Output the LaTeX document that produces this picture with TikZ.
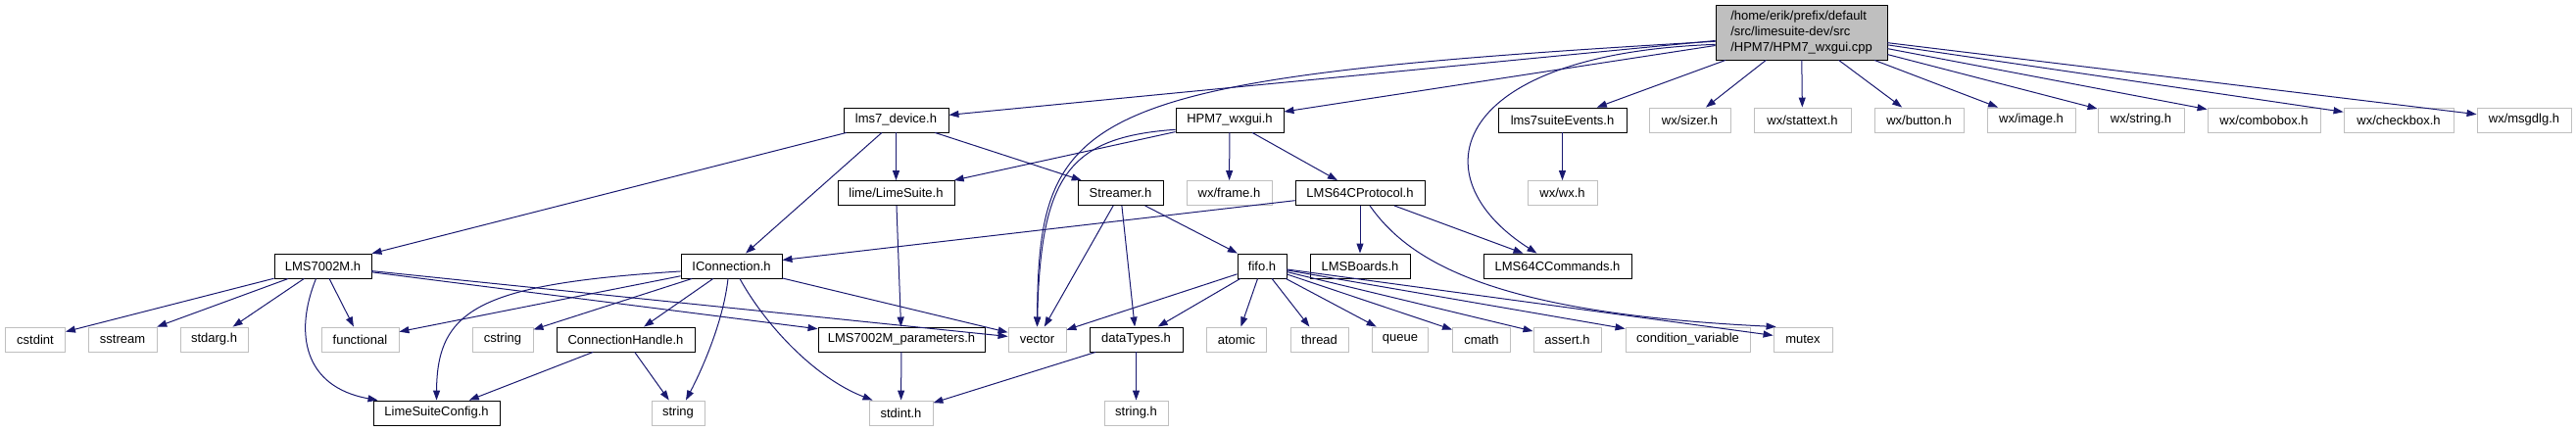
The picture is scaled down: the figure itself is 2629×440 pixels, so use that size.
\documentclass[tikz,border=0pt]{standalone}
\usepackage{fontspec}
\setmainfont{Liberation Sans}
\usetikzlibrary{arrows.meta}
\definecolor{edgec}{HTML}{191970}
\definecolor{extgray}{HTML}{BFBFBF}
\begin{document}
\begin{tikzpicture}[x=1pt,y=-1pt,
  box/.style={line width=0.9pt, fill=white, minimum height=25pt, inner sep=1pt,
              font=\fontsize{13}{16}\selectfont},
  doc/.style={box, draw=black},
  ext/.style={box, draw=extgray},
  edge/.style={draw=edgec, line width=1pt, -{Triangle[length=10pt,width=7pt]}}]
\useasboundingbox (0,0) rectangle (2629,440);
% row 0
\node[doc, fill=extgray, align=left, minimum width=175, minimum height=56] (root) at (1838.5,33)
  {/home/erik/prefix/default\\/src/limesuite-dev/src\\/HPM7/HPM7\_wxgui.cpp};
% row 1
\node[doc, minimum width=107] (lms7) at (914.5,122.5) {lms7\_device.h};
\node[doc, minimum width=110] (hpm7) at (1255,122.5) {HPM7\_wxgui.h};
\node[doc, minimum width=131] (events) at (1594.5,122.5) {lms7suiteEvents.h};
\node[ext, minimum width=83] (sizer) at (1724.5,122.5) {wx/sizer.h};
\node[ext, minimum width=99] (stattext) at (1839.5,122.5) {wx/stattext.h};
\node[ext, minimum width=91] (button) at (1958.5,122.5) {wx/button.h};
\node[ext, minimum width=90] (image) at (2073,122.5) {wx/image.h};
\node[ext, minimum width=88] (wxstring) at (2185,122.5) {wx/string.h};
\node[ext, minimum width=115] (combobox) at (2310.5,122.5) {wx/combobox.h};
\node[ext, minimum width=112] (checkbox) at (2448,122.5) {wx/checkbox.h};
\node[ext, minimum width=96] (msgdlg) at (2576,122.5) {wx/msgdlg.h};
% row 2
\node[doc, minimum width=119] (limesuite) at (914.5,197) {lime/LimeSuite.h};
\node[doc, minimum width=87] (streamer) at (1143.5,197) {Streamer.h};
\node[ext, minimum width=87] (frame) at (1254.5,197) {wx/frame.h};
\node[doc, minimum width=132] (proto) at (1388,197) {LMS64CProtocol.h};
\node[ext, minimum width=71] (wxwx) at (1594.5,197) {wx/wx.h};
% row 3
\node[doc, minimum width=99] (lms7002) at (329.5,271.5) {LMS7002M.h};
\node[doc, minimum width=103] (icon) at (746.5,271.5) {IConnection.h};
\node[doc, minimum width=50] (fifo) at (1288,271.5) {fifo.h};
\node[doc, minimum width=102] (boards) at (1388,271.5) {LMSBoards.h};
\node[doc, minimum width=151] (cmds) at (1589.5,271.5) {LMS64CCommands.h};
% row 4
\node[ext, minimum width=61] (cstdint) at (36,346.5) {cstdint};
\node[ext, minimum width=70] (sstream) at (125,346.5) {sstream};
\node[ext, minimum width=69] (stdarg) at (218.5,346.5) {stdarg.h};
\node[ext, minimum width=79] (functional) at (367.5,346.5) {functional};
\node[ext, minimum width=62] (cstring) at (513,346.5) {cstring};
\node[doc, minimum width=141] (chandle) at (638.5,346.5) {ConnectionHandle.h};
\node[doc, minimum width=170] (params) at (920,346.5) {LMS7002M\_parameters.h};
\node[ext, minimum width=59] (vector) at (1058.5,346.5) {vector};
\node[doc, minimum width=95] (datatypes) at (1159.5,346.5) {dataTypes.h};
\node[ext, minimum width=61] (atomic) at (1262,346.5) {atomic};
\node[ext, minimum width=59] (thread) at (1346.5,346.5) {thread};
\node[ext, minimum width=57] (queue) at (1429,346.5) {queue};
\node[ext, minimum width=59] (cmath) at (1512,346.5) {cmath};
\node[ext, minimum width=69] (assert) at (1599.5,346.5) {assert.h};
\node[ext, minimum width=127] (condvar) at (1722.5,346.5) {condition\_variable};
\node[ext, minimum width=60] (mutex) at (1840,346.5) {mutex};
% row 5
\node[doc, minimum width=129] (lsc) at (445.5,421.5) {LimeSuiteConfig.h};
\node[ext, minimum width=54] (string) at (692,421.5) {string};
\node[ext, minimum width=65] (stdint) at (919.5,421.5) {stdint.h};
\node[ext, minimum width=65] (stringh) at (1159.5,421.5) {string.h};
% edges from root
\draw[edge] (root) -- (lms7);
\draw[edge] (root) -- (hpm7);
\draw[edge] (root.186) .. controls (1100,80) and (1060,110) .. (vector.north);
\draw[edge] (root.188) .. controls (1480,55) and (1445,180) .. ([xshift=-21pt]cmds.north);
\draw[edge] (root) -- (events);
\draw[edge] (root) -- (sizer);
\draw[edge] (root) -- (stattext);
\draw[edge] (root) -- (button);
\draw[edge] (root) -- (image);
\draw[edge] (root) -- (wxstring);
\draw[edge] (root) -- (combobox);
\draw[edge] (root) -- (checkbox);
\draw[edge] (root) -- (msgdlg);
% lms7_device
\draw[edge] (lms7) -- (lms7002);
\draw[edge] (lms7) -- (icon);
\draw[edge] (lms7) -- (limesuite);
\draw[edge] (lms7) -- (streamer);
% HPM7_wxgui
\draw[edge] (hpm7) -- (limesuite);
\draw[edge] (hpm7.190) .. controls (1090,140) and (1062,180) .. (vector.north);
\draw[edge] (hpm7) -- (frame);
\draw[edge] (hpm7) -- (proto);
% events
\draw[edge] (events) -- (wxwx);
% LimeSuite
\draw[edge] (limesuite) -- (params);
% Streamer
\draw[edge] (streamer) -- (vector);
\draw[edge] (streamer) -- (datatypes);
\draw[edge] (streamer) -- (fifo);
% LMS64CProtocol
\draw[edge] (proto) -- (icon);
\draw[edge] (proto) -- (boards);
\draw[edge] (proto) -- (cmds);
\draw[edge] ([xshift=10pt]proto.south) .. controls (1440,270) and (1530,320) .. ([xshift=3pt]mutex.north west);
% LMS7002M
\draw[edge] (lms7002) -- (cstdint);
\draw[edge] (lms7002) -- (sstream);
\draw[edge] (lms7002) -- (stdarg);
\draw[edge] (lms7002) -- (functional);
\draw[edge] ([xshift=-7pt]lms7002.south) .. controls (300,340) and (310,395) .. ([xshift=5pt]lsc.north west);
\draw[edge] (lms7002) -- (params);
\draw[edge] (lms7002) -- (vector);
% IConnection
\draw[edge] (icon) -- (functional);
\draw[edge] (icon) -- (cstring);
\draw[edge] (icon) -- (chandle);
\draw[edge] ([xshift=-3.5pt]icon.south) .. controls (738,330) and (715,380) .. ([xshift=8pt]string.north);
\draw[edge] ([xshift=8.5pt]icon.south) .. controls (780,330) and (830,385) .. ([xshift=4pt]stdint.north west);
\draw[edge] (icon) -- (vector);
\draw[edge] (icon.186) .. controls (490,290) and (446,315) .. (lsc.north);
% ConnectionHandle
\draw[edge] (chandle) -- (lsc);
\draw[edge] (chandle) -- (string);
% params
\draw[edge] (params) -- (stdint);
% dataTypes
\draw[edge] (datatypes) -- (stdint);
\draw[edge] (datatypes) -- (stringh);
% fifo
\draw[edge] (fifo) -- (vector);
\draw[edge] (fifo) -- (datatypes);
\draw[edge] (fifo) -- (atomic);
\draw[edge] (fifo) -- (thread);
\draw[edge] (fifo) -- (queue);
\draw[edge] (fifo) -- (cmath);
\draw[edge] (fifo) -- (assert);
\draw[edge] (fifo) -- (condvar);
\draw[edge] (fifo) -- (mutex);
\end{tikzpicture}
\end{document}
